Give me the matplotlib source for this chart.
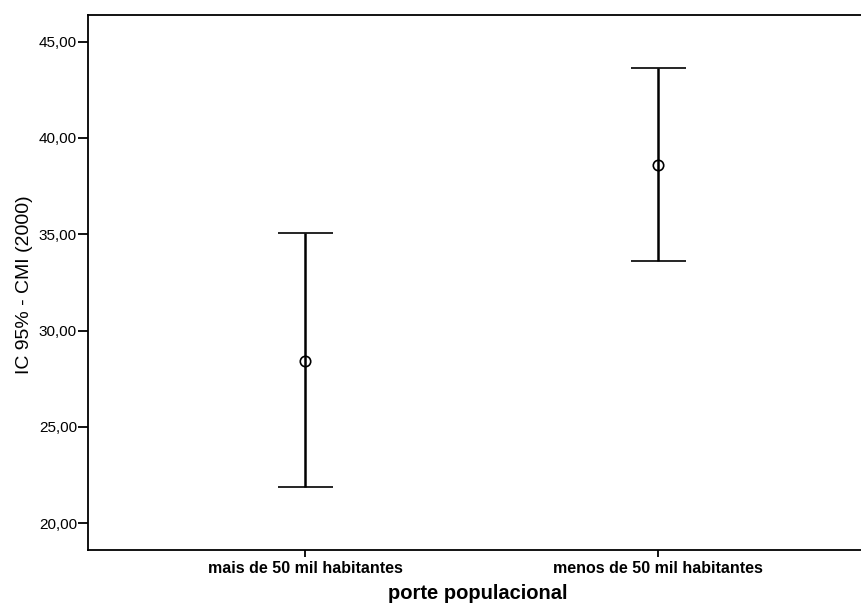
import matplotlib.pyplot as plt

# group labels and 95% CI for CMI (2000)
groups = ["mais de 50 mil habitantes", "menos de 50 mil habitantes"]
means = [28.44, 38.60]
lower = [21.87, 33.60]
upper = [35.06, 43.62]

plt.rcParams["font.family"] = ["Liberation Sans", "DejaVu Sans"]

fig = plt.figure(figsize=(8.61, 6.06), dpi=100)
ax = fig.add_axes([88 / 861, 56 / 606, 1 - 88 / 861, (550 - 14.7) / 606])

pos = [1, 2]
err_lo = [m - l for m, l in zip(means, lower)]
err_hi = [u - m for m, u in zip(means, upper)]
ax.errorbar(pos, means, yerr=[err_lo, err_hi], fmt="o", mfc="none", mec="black",
            ms=7.5, mew=1.2, ecolor="black", elinewidth=1.8, capsize=19.8,
            capthick=1.8, color="black")

ax.set_xlim(0.385, 2.575)
ax.set_ylim(18.61, 46.40)
ax.set_yticks([20, 25, 30, 35, 40, 45])
ax.set_yticklabels([f"{v},00" for v in [20, 25, 30, 35, 40, 45]], fontsize=11)
ax.set_xticks(pos)
ax.set_xticklabels(groups, fontsize=11.5, fontweight="bold")

ax.spines["right"].set_visible(False)
for s in ["left", "top", "bottom"]:
    ax.spines[s].set_linewidth(1.3)
ax.tick_params(axis="y", direction="out", length=7, width=1.3, pad=1)
ax.tick_params(axis="x", direction="out", length=5, width=1.3, pad=3)

ax.set_xlabel("porte populacional", fontsize=14.5, fontweight="bold")
ax.xaxis.set_label_coords(0.504, -0.064)
ax.set_ylabel("IC 95% - CMI (2000)", fontsize=14)
ax.yaxis.set_label_coords(-0.071, 0.495)

fig.savefig("out.png", dpi=100)
